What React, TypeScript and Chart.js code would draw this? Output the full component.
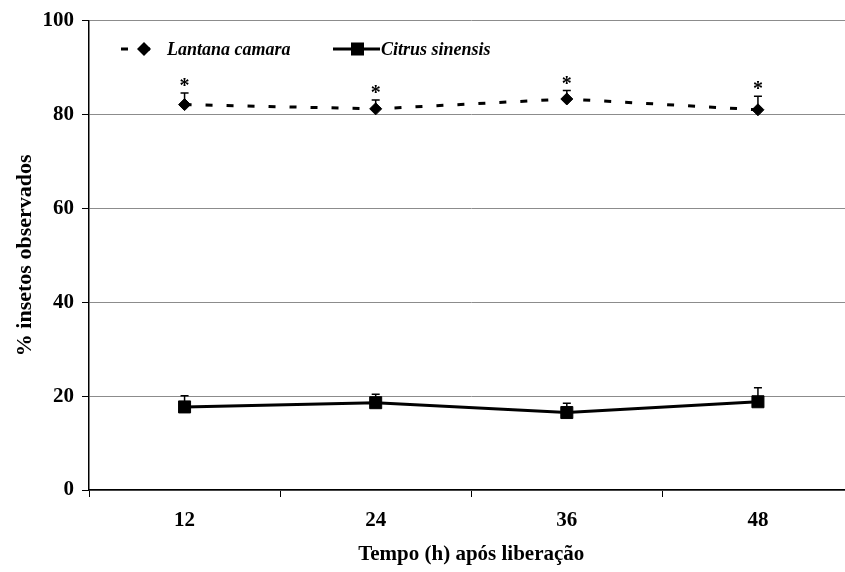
import { useEffect, useRef } from 'react';
import { Chart, registerables } from 'chart.js';

Chart.register(...registerables);

// Hours after release (category axis)
const hours = ['12', '24', '36', '48'];
// Mean % of insects observed on each plant, with upper standard error
const lantana = [82.1, 81.2, 83.3, 81.0];
const lantanaErr = [2.5, 1.9, 1.8, 2.9];
const citrus = [17.7, 18.6, 16.5, 18.8];
const citrusErr = [2.4, 1.8, 2.0, 3.0];
// Significance markers above the Lantana series
const significance = ['*', '*', '*', '*'];
const yMin = 0;
const yMax = 100;
const yStep = 20;

const SERIF = "'Liberation Serif', 'Times New Roman', serif";

const errorBarsPlugin = {
  id: 'errorBars',
  beforeDatasetsDraw(chart: any) {
    const { ctx, scales } = chart;
    const x = scales.x;
    const y = scales.y;
    const series: [number[], number[]][] = [
      [lantana, lantanaErr],
      [citrus, citrusErr],
    ];
    ctx.save();
    ctx.strokeStyle = '#000';
    ctx.lineWidth = 1.5;
    series.forEach(([vals, errs]) => {
      vals.forEach((v, i) => {
        const px = x.getPixelForValue(i);
        const y0 = y.getPixelForValue(v);
        const y1 = y.getPixelForValue(v + errs[i]);
        ctx.beginPath();
        ctx.moveTo(px, y0);
        ctx.lineTo(px, y1);
        ctx.moveTo(px - 4, y1);
        ctx.lineTo(px + 4, y1);
        ctx.stroke();
      });
    });
    ctx.restore();
  },
  afterDatasetsDraw(chart: any) {
    const { ctx, scales } = chart;
    const x = scales.x;
    const y = scales.y;
    ctx.save();
    ctx.fillStyle = '#000';
    ctx.font = `bold 20px ${SERIF}`;
    ctx.textAlign = 'center';
    ctx.textBaseline = 'alphabetic';
    significance.forEach((mark, i) => {
      const px = x.getPixelForValue(i);
      const top = y.getPixelForValue(lantana[i] + lantanaErr[i]);
      ctx.fillText(mark, px, top - 1);
    });
    ctx.restore();
  },
};

// Legend drawn inside the plot, top-left
const legendPlugin = {
  id: 'insideLegend',
  afterDraw(chart: any) {
    const { ctx } = chart;
    const ly = 49;
    ctx.save();
    ctx.fillStyle = '#000';
    ctx.strokeStyle = '#000';
    // Lantana: dashed line + diamond
    ctx.lineWidth = 3;
    ctx.setLineDash([7, 15]);
    ctx.beginPath();
    ctx.moveTo(121, ly);
    ctx.lineTo(160, ly);
    ctx.stroke();
    ctx.setLineDash([]);
    ctx.beginPath();
    ctx.moveTo(144, ly - 7);
    ctx.lineTo(151, ly);
    ctx.lineTo(144, ly + 7);
    ctx.lineTo(137, ly);
    ctx.closePath();
    ctx.fill();
    ctx.font = `italic bold 18px ${SERIF}`;
    ctx.textBaseline = 'middle';
    ctx.textAlign = 'left';
    ctx.fillText('Lantana camara', 167, ly + 1);
    // Citrus: solid line + square
    ctx.beginPath();
    ctx.moveTo(333, ly);
    ctx.lineTo(380, ly);
    ctx.stroke();
    ctx.fillRect(351, ly - 6.5, 13, 13);
    ctx.fillText('Citrus sinensis', 381, ly + 1);
    ctx.restore();
  },
};

export default function App() {
  const canvasRef = useRef<HTMLCanvasElement | null>(null);

  useEffect(() => {
    const canvas = canvasRef.current;
    if (!canvas) return;
    const chart = new Chart(canvas, {
      type: 'line',
      data: {
        labels: hours,
        datasets: [
          {
            label: 'Lantana camara',
            data: lantana,
            borderColor: '#000',
            backgroundColor: '#000',
            borderWidth: 3,
            borderDash: [7, 14],
            pointStyle: 'rectRot',
            pointRadius: 6,
            pointBorderWidth: 1,
            pointBackgroundColor: '#000',
            pointBorderColor: '#000',
            tension: 0,
          },
          {
            label: 'Citrus sinensis',
            data: citrus,
            borderColor: '#000',
            backgroundColor: '#000',
            borderWidth: 3,
            pointStyle: 'rect',
            pointRadius: 8.5,
            pointBorderWidth: 1,
            pointBackgroundColor: '#000',
            pointBorderColor: '#000',
            tension: 0,
          },
        ],
      },
      options: {
        responsive: false,
        animation: false,
        layout: { padding: { top: 16, left: 0, right: 16.5, bottom: 0 } },
        plugins: {
          legend: { display: false },
          tooltip: { enabled: false },
        },
        scales: {
          x: {
            type: 'category',
            offset: true,
            afterFit(scale: any) {
              scale.height = 82;
            },
            grid: {
              offset: true,
              drawOnChartArea: false,
              tickLength: 7,
              color: '#000',
              tickColor: '#000',
            },
            border: { color: '#000', width: 1.5 },
            ticks: {
              color: '#000',
              padding: 11,
              font: { family: SERIF, size: 21, weight: 'bold' },
            },
            title: {
              display: true,
              text: 'Tempo (h) após liberação',
              color: '#000',
              padding: { top: 0, bottom: 4.5 },
              font: { family: SERIF, size: 21, weight: 'bold' },
            },
          },
          y: {
            min: yMin,
            max: yMax,
            afterFit(scale: any) {
              scale.width = 89;
            },
            grid: {
              color: '#8c8c8c',
              lineWidth: 1,
              tickLength: 7,
              tickColor: '#000',
            },
            border: { color: '#000', width: 1.5 },
            ticks: {
              stepSize: yStep,
              color: '#000',
              padding: 8,
              font: { family: SERIF, size: 21, weight: 'bold' },
            },
            title: {
              display: true,
              text: '% insetos observados',
              color: '#000',
              padding: { top: 12, bottom: 0 },
              font: { family: SERIF, size: 22, weight: 'bold' },
            },
          },
        },
      },
      plugins: [errorBarsPlugin, legendPlugin],
    });
    return () => chart.destroy();
  }, []);

  return (
    <div
      style={{
        position: 'fixed',
        left: 0,
        top: 0,
        width: 845,
        height: 572,
        overflow: 'hidden',
        background: '#fff',
      }}
    >
      <canvas
        ref={canvasRef}
        width={870}
        height={572}
        style={{ display: 'block', width: 870, height: 572 }}
      />
    </div>
  );
}
